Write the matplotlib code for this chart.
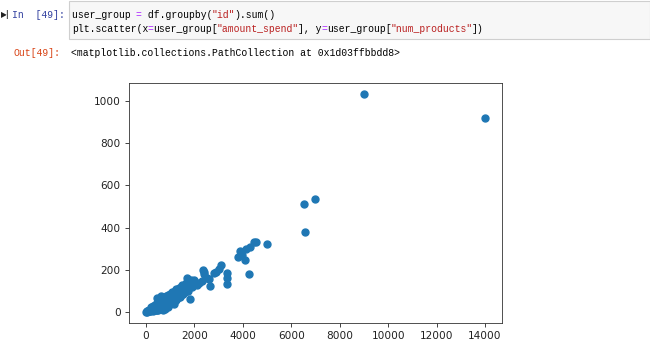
import matplotlib
matplotlib.use("Agg")
import matplotlib.pyplot as plt
from matplotlib.patches import Rectangle

# amount_spend / num_products per user
amount_spend = [0, 30, 60, 90, 120, 150, 180, 200, 230, 250, 280, 300, 320, 350, 380, 400,
                420, 450, 480, 500, 520, 550, 580, 600, 620, 650, 680, 700, 720, 750, 780, 800,
                830, 850, 880, 900, 930, 950, 980, 1000, 1030, 1050, 1080, 1100, 1130, 1150,
                1180, 1200, 1230, 1260, 1280, 1300, 1330, 1350, 1380, 1400, 1430, 1450, 1480,
                1500, 1530, 1560, 1600, 1620, 1650, 1680, 1700, 1720, 1750, 1780, 1850, 1900,
                1950, 2000, 2050, 2100, 2200, 100, 300, 500, 700, 800, 900, 640, 450,
                50, 160, 260, 360, 460, 560, 660, 760, 860, 960, 1060, 1160, 1260, 1360,
                1460, 1560, 1660, 210, 310, 410, 510, 610, 710, 810, 910, 1010, 1110,
                1210, 1310, 1410, 1510, 1610, 1710, 1810, 240, 540, 840, 1140, 1440,
                1833, 2315, 2384, 2350, 2400, 2500, 2604, 2632, 2800, 2907, 3000, 3114,
                3349, 3349, 3362, 3790, 3900, 3950, 4106, 4134, 4286, 4258, 4450, 4550,
                4988, 6518, 6986, 6573, 9000, 14000]
num_products = [0, 2, 5, 3, 8, 12, 6, 15, 20, 10, 25, 18, 30, 22, 35, 12,
                40, 28, 45, 20, 38, 50, 32, 55, 15, 45, 60, 38, 70, 50, 25, 65,
                75, 42, 60, 80, 30, 70, 55, 85, 45, 75, 95, 60, 88, 40,
                100, 72, 90, 110, 65, 95, 82, 115, 100, 70, 120, 90, 105,
                130, 85, 110, 125, 95, 140, 115, 160, 130, 100, 145, 150, 120,
                135, 150, 140, 130, 140, 3, 5, 8, 10, 15, 25, 75, 65,
                6, 4, 10, 8, 12, 18, 22, 20, 35, 40, 55, 50, 58, 70,
                80, 95, 100, 25, 30, 35, 42, 48, 55, 60, 68, 72, 80,
                85, 100, 108, 115, 112, 135, 125, 14, 28, 50, 65, 88,
                60, 146, 192, 200, 180, 160, 156, 122, 185, 192, 205, 224,
                185, 161, 133, 263, 291, 270, 247, 299, 310, 180, 330, 330,
                321, 513, 535, 377, 1033, 917]

x_ticks = [0, 2000, 4000, 6000, 8000, 10000, 12000, 14000]
y_ticks = [0, 200, 400, 600, 800, 1000]

code_line1 = [("user_group ", "#000000"), ("=", "#AA22FF"), (" df.groupby(", "#000000"),
              ('"id"', "#BA2121"), (").sum()", "#000000")]
code_line2 = [("plt.scatter(x", "#000000"), ("=", "#AA22FF"), ("user_group[", "#000000"),
              ('"amount_spend"', "#BA2121"), ("], y", "#000000"), ("=", "#AA22FF"),
              ("user_group[", "#000000"), ('"num_products"', "#BA2121"), ("])", "#000000")]
out_text = "<matplotlib.collections.PathCollection at 0x1d03ffbbdd8>"

W, H = 650, 349
fig = plt.figure(figsize=(W / 100, H / 100), dpi=100)
fig.patch.set_facecolor("white")


def fx(px):
    return px / W


def fy(py):
    return 1 - py / H


# notebook cell chrome
fig.patches.append(Rectangle((fx(69), fy(39)), fx(650) - fx(69), fy(1) - fy(39),
                             transform=fig.transFigure, facecolor="#F7F7F7",
                             edgecolor="#CFCFCF", linewidth=0.8))

mono = "Liberation Mono"
fs = 7
cw = 5.8  # pixels per char

fig.text(fx(1), fy(14.7), "\u25B6|", fontsize=5.5, color="#222222", va="center", ha="left",
         fontweight="bold")
fig.text(fx(12), fy(14.7), "In  [49]:", fontsize=fs, family=mono, color="#303F9F", va="center")
fig.text(fx(14), fy(52.7), "Out[49]:", fontsize=fs, family=mono, color="#D84315", va="center")


def draw_line(parts, x0, y0):
    x = x0
    for s, c in parts:
        fig.text(fx(x), fy(y0), s, fontsize=fs, family=mono, color=c, va="center")
        x += len(s) * cw


draw_line(code_line1, 72, 14.7)
draw_line(code_line2, 72, 28.7)
fig.text(fx(71), fy(52.7), out_text, fontsize=fs, family=mono, color="#000000", va="center")

# scatter plot
ax = fig.add_axes([fx(129), fy(323), fx(502) - fx(129), fy(83) - fy(323)])
ax.scatter(x=amount_spend, y=num_products, s=25, color="#1f77b4")
ax.set_xticks(x_ticks)
ax.set_yticks(y_ticks)
ax.set_xlim(-700, 14700)
ax.set_ylim(-51.5, 1084)
ax.tick_params(labelsize=7.6, length=2.6, width=0.6, colors="#222222")
for sp in ax.spines.values():
    sp.set_linewidth(0.6)
    sp.set_color("#333333")

fig.savefig("out.png", dpi=100)
